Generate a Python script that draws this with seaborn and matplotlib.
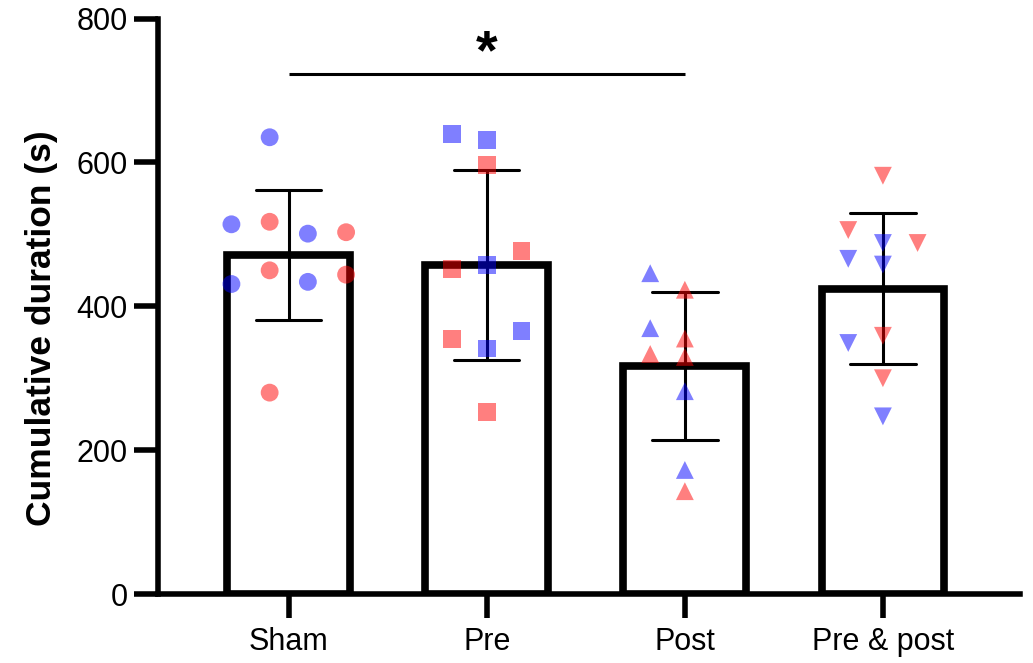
import numpy as np
import pandas as pd
import matplotlib
matplotlib.use("Agg")
import matplotlib.pyplot as plt
import seaborn as sns

# ---------------- data ----------------
groups = ["Sham", "Pre", "Post", "Pre & post"]
group_markers = {"Sham": "o", "Pre": "s", "Post": "^", "Pre & post": "v"}

sham_values = [635, 517.5, 501, 514, 503, 450, 434, 431, 444, 280]
sham_cohort = ["M", "F", "M", "M", "F", "F", "M", "M", "F", "F"]

pre_values = [631.6, 597, 639, 457.7, 452.1, 477.2, 341.3, 354.8, 365.9, 253.6]
pre_cohort = ["M", "F", "M", "M", "F", "F", "M", "F", "M", "F"]

post_values = [143, 172.5, 282, 329.6, 333.7, 355.2, 369.6, 423, 446]
post_cohort = ["F", "M", "M", "F", "F", "F", "M", "F", "M"]

prepost_values = [247, 300, 359, 349, 488, 506, 488, 458, 466, 581.5]
prepost_cohort = ["M", "F", "F", "M", "M", "F", "F", "M", "M", "F"]

cohort_colors = {"M": "#0000FF", "F": "#FF0000"}

sig_pair = ("Sham", "Post")
sig_label = "*"

# ---------------- build table ----------------
all_values = [sham_values, pre_values, post_values, prepost_values]
all_cohorts = [sham_cohort, pre_cohort, post_cohort, prepost_cohort]
rows = []
for g, vals, coh in zip(groups, all_values, all_cohorts):
    for v, c in zip(vals, coh):
        rows.append({"group": g, "value": v, "cohort": c})
df = pd.DataFrame(rows)

# ---------------- scatter layout (GraphPad-like column lattice) ----------------
MIN_GAP = 25.3  # marker height in data units


def greedy(values, cols):
    placed = []
    out = []
    for v in values:
        for c in cols:
            if all(not (pc == c and abs(pv - v) < MIN_GAP) for pv, pc in placed):
                placed.append((v, c))
                out.append(c)
                break
    return out


def layout(values):
    odd = greedy(values, [0, -1, 1, -2, 2, -3, 3])
    if max(abs(c) for c in odd) <= 1:
        return np.array(odd, float) * 0.175
    even = greedy(values, [-0.5, 0.5, -1.5, 1.5, -2.5, 2.5])
    return np.array(even, float) * 0.193


xpos = []
for i, (g, vals) in enumerate(zip(groups, all_values)):
    xpos.extend(i + layout(vals))
df["xpos"] = xpos

# ---------------- plot ----------------
sns.set_theme(style="ticks")
plt.rcParams["font.family"] = ["Liberation Sans", "DejaVu Sans"]
plt.rcParams["text.color"] = "black"
plt.rcParams["axes.labelcolor"] = "black"
plt.rcParams["xtick.color"] = "black"
plt.rcParams["ytick.color"] = "black"

fig = plt.figure(figsize=(10.33, 6.63), dpi=100)
ax = fig.add_axes([0.153, 0.104, 0.834, 0.868])

sns.barplot(
    data=df, x="group", y="value", order=groups, errorbar="sd",
    capsize=0.33, width=0.62, color="white", saturation=1,
    edgecolor="black", linewidth=5.5,
    err_kws={"color": "black", "linewidth": 2.2, "zorder": 2.5},
    ax=ax,
)

sns.scatterplot(
    data=df, x="xpos", y="value", hue="cohort", style="group",
    palette=cohort_colors, markers=group_markers, hue_order=["M", "F"],
    style_order=groups, s=165, alpha=0.5, linewidth=0, legend=False,
    ax=ax, zorder=4,
)

# significance bar
x0, x1 = groups.index(sig_pair[0]), groups.index(sig_pair[1])
ax.plot([x0, x1], [723, 723], color="black", linewidth=2.2, solid_capstyle="butt")
ax.text((x0 + x1) / 2, 750, sig_label, ha="center", va="center",
        fontsize=40, fontweight="bold", color="black")

ax.set_xlim(-0.66, 3.69)
ax.set_ylim(0, 800)
ax.set_yticks([0, 200, 400, 600, 800])
ax.set_xticks(range(len(groups)))
ax.set_xticklabels(groups)
ax.set_xlabel("")
ax.set_ylabel("Cumulative duration (s)", fontsize=25.5, fontweight="bold",
              color="black")
ax.yaxis.set_label_coords(-0.116, 0.462)

for side in ["top", "right"]:
    ax.spines[side].set_visible(False)
for side in ["left", "bottom"]:
    ax.spines[side].set_linewidth(4)
    ax.spines[side].set_color("black")
ax.tick_params(axis="both", width=4, length=17, labelsize=22,
               colors="black", labelcolor="black")
ax.tick_params(axis="x", pad=7)
ax.tick_params(axis="y", pad=5)

fig.savefig("out.png", dpi=100, facecolor="white")
